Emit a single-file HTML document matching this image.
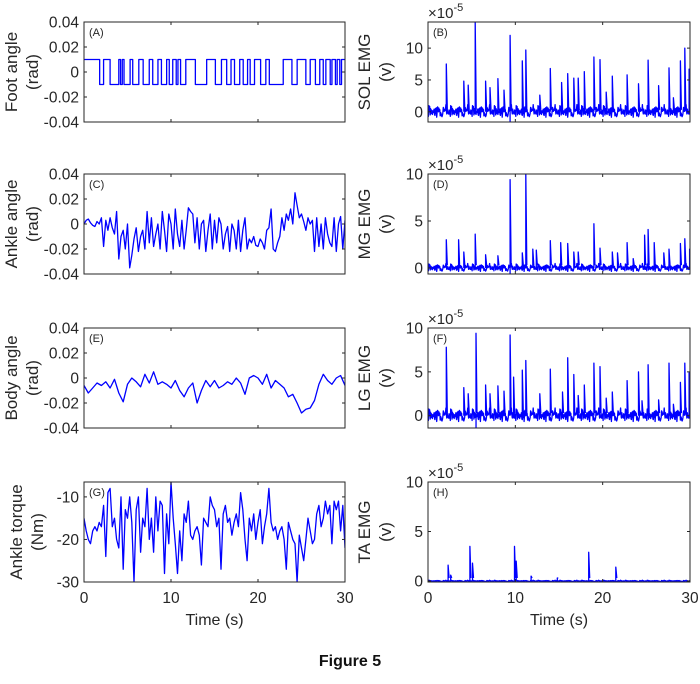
<!DOCTYPE html>
<html><head><meta charset="utf-8"><style>
html,body{margin:0;padding:0;background:#fff;}
svg{display:block;font-family:"Liberation Sans",Arial,sans-serif;}
</style></head><body>
<svg id="fig" width="700" height="684" viewBox="0 0 700 684" xmlns="http://www.w3.org/2000/svg">
<text x="350" y="666" text-anchor="middle" font-size="16" font-weight="bold" fill="#111">Figure 5</text>
</svg>
<script>
// ---------- data ----------
const footToggleTimes = [1.8,2.25,3.0,4.0,4.2,4.4,4.6,5.3,5.6,6.3,6.8,7.5,7.9,8.5,8.9,9.5,9.8,10.2,10.6,10.8,11.1,11.7,12.8,14.1,15.1,15.8,16.4,16.9,17.3,17.9,18.3,18.8,19.1,19.6,20.3,20.9,21.3,22.9,23.9,24.5,25.5,26.0,26.6,27.1,27.5,27.8,28.3,28.5,28.9,29.1,29.4,29.6];
const footLevels = [0.01,-0.01];
const ankleAngle = [0,3,4,1,-1,-2,2,0,5,-18,3,-5,
5,-3,-8,10,-28,-10,-5,-20,0,-35,-25,-12,
-3,-22,-10,-5,-20,10,-15,5,-18,-8,0,-20,
10,-5,-22,8,0,-20,12,-8,-18,3,-20,-5,
13,10,8,-15,5,-20,0,3,-22,-5,8,-20,
3,-15,5,0,-20,-8,-2,-22,0,-5,-20,3,
-22,-5,5,-20,-12,-15,-10,-17,-18,-12,-15,-20,
-5,-3,12,-20,-22,-15,-10,5,-5,8,3,12,
0,25,15,5,8,2,-5,5,0,3,-22,5,
-18,0,-20,5,-8,-15,-18,5,-22,0,6,-20,3];
const bodyAngle = [-6,-12,-8,-4,-6,-3,-8,-1,-12,-19,
-5,0,-3,-7,3,-4,5,-5,-3,-5,
-8,-2,-10,-15,-8,-4,-20,-10,-2,-7,
-2,-8,-6,-3,-5,0,-4,-13,0,2,
0,-5,3,-8,-2,-5,-8,-15,-13,-20,
-28,-25,-24,-18,-5,3,-2,-5,0,2,-6];
const ankleTorque = [-15,-18,-20,-21,-18,-17,-18,-16,-17,-12,-24,-9,
-8,-17,-15,-20,-22,-10,-27,-13,-15,-10,-16,-30,
-13,-10,-23,-15,-17,-8,-20,-15,-23,-10,-18,-11,
-12,-28,-14,-21,-6.5,-15,-21,-28,-18,-25,-14,-16,
-11,-19,-20,-18,-17,-19,-26,-15,-16,-17,-10,-12,
-13,-17,-15,-27,-14,-12,-16,-15,-19,-16,-14,-17,
-9,-13,-20,-25,-15,-18,-14,-20,-16,-13,-21,-17,
-14,-8,-16,-18,-17,-20,-18,-17,-20,-27,-16,-18,
-20,-21,-30,-19,-22,-25,-20,-15,-18,-21,-20,-14,
-12,-17,-15,-11,-14,-12,-21,-11,-13,-11,-18,-12,-22];
const emgNoise = [0.3,-0.5,0.8,-0.2,1.1,-0.7,0.4,-1.0,0.6,0.1,-0.4,0.9,-0.8,0.2,1.4,-0.3,0.5,-0.9,0.0,0.7,-0.6,1.0,-0.1,0.3,-1.1,0.8,-0.4,0.2,1.2,-0.5,0.6,-0.8,0.1,0.9,-0.2,-0.7,0.4,1.6,-0.3,0.5,-1.2,0.2,0.7,-0.5,0.3,1.0,-0.9,0.1,0.6,-0.4];
const solSpikeT = [2.1,4.1,4.6,5.4,6.6,7.1,8.0,8.7,9.4,10.8,11.2,12.8,14.0,15.3,16.0,16.7,17.2,17.9,19.0,19.7,20.4,21.1,22.8,24.1,25.2,26.4,27.6,28.1,28.9,29.4,29.9];
const solSpikeH = [7.5,4.8,4.2,14.1,4.8,3.8,5.2,3.4,12,8,9.7,2.6,6.8,4.6,6,5.3,5.3,6.3,8.6,8.2,3.1,5.6,5.8,4.4,8.1,4.1,6.9,2.2,8,10,6.7];
const mgSpikeT = [2.1,3.5,4.1,5.4,6.6,8.0,9.4,10.8,11.2,12.0,12.4,14.0,15.2,16.0,16.7,17.2,19.0,19.7,21.1,21.7,22.8,23.5,24.8,25.2,25.9,27.0,27.6,28.9,29.4,29.95];
const mgSpikeH = [3,3,1.7,3.6,1.4,1.3,9.4,1.6,10,2,1.9,2.9,2.7,2.6,1.7,1.7,4.7,2.1,1.7,1.6,2.7,1,3.5,4.1,2.7,1.6,2,2.6,3.1,2];
const lgSpikeT = [2.1,4.1,4.6,5.5,6.6,7.1,8.0,8.7,9.4,9.8,10.8,11.2,12.8,14.0,15.4,16.0,16.7,17.2,17.9,19.0,19.7,20.4,21.1,22.8,24.1,24.5,25.2,26.4,27.6,28.1,28.9,29.4,29.9];
const lgSpikeH = [7.8,3.2,2.5,9.4,3.5,2.5,3.4,2.8,9.2,4.4,5.2,6.3,2.5,5.3,2.7,6.6,4.7,2.3,3.5,6,5.6,2,2.7,4,5,1.7,5.8,1.8,6,1.3,3.8,6,4.9];
const taSpikeT = [2.3,2.6,4.8,5.1,9.9,10.1,11.8,14.8,18.4,21.5];
const taSpikeH = [1.6,0.6,3.5,1.8,3.5,2,0.5,0.3,2.9,1.4];
const angleTicks = [0.04,0.02,0,-0.02,-0.04];
const angleTickLabels = ["0.04","0.02","0","-0.02","-0.04"];
const torqueTicks = [-10,-20,-30];
const emgTicks = [0,5,10];
const timeTicks = [0,10,20,30];

// ---------- drawing ----------
const NS="http://www.w3.org/2000/svg";
const svg=document.getElementById('fig');
function el(tag,attrs,parent){const e=document.createElementNS(NS,tag);for(const k in attrs)e.setAttribute(k,attrs[k]);(parent||svg).appendChild(e);return e;}
const BLUE="#0000ff";

function makePanel(o){
  const g=el('g',{});
  
  
  const x0=o.x0,x1=o.x1,y0=o.y0,y1=o.y1;
  const sx=t=>x0+(t-0)/30*(x1-x0);
  const sy=v=>y1-(v-o.ymin)/(o.ymax-o.ymin)*(y1-y0);
  const clip='c'+o.label;
  const cp=el('clipPath',{id:clip},g);el('rect',{x:x0,y:y0,width:x1-x0,height:y1-y0},cp);
  const p=el('path',{d:o.path(sx,sy),fill:'none',stroke:BLUE,'stroke-width':1.3,'stroke-linejoin':'round','clip-path':'url(#'+clip+')'},g);
  
  
  const b=el('rect',{x:x0,y:y0,width:x1-x0,height:y1-y0,fill:'none',stroke:'#262626','stroke-width':1},g);
  
  
  o.yticks.forEach((v,i)=>{
    const y=sy(v);
    el('line',{x1:x0,x2:x0+3,y1:y,y2:y,stroke:'#262626'},g);
    el('line',{x1:x1,x2:x1-3,y1:y,y2:y,stroke:'#262626'},g);
    const t=el('text',{x:x0-5,y:y+5.5,'text-anchor':'end','font-size':15.5,fill:'#262626'},g);
    t.textContent=o.ylabels?o.ylabels[i]:String(v);
    
    
  });
  timeTicks.forEach(v=>{
    const x=sx(v);
    el('line',{x1:x,x2:x,y1:y1,y2:y1-3,stroke:'#262626'},g);
    el('line',{x1:x,x2:x,y1:y0,y2:y0+3,stroke:'#262626'},g);
    if(o.xlabels){
      const t=el('text',{x:x,y:y1+21,'text-anchor':'middle','font-size':15.5,fill:'#262626'},g);
      t.textContent=String(v);
      
      
    }
  });
  if(o.xlabels){
    const t=el('text',{x:(x0+x1)/2,y:y1+43,'text-anchor':'middle','font-size':16,fill:'#262626'},g);
    t.textContent='Time (s)';
    
    
  }
  const lt=el('text',{x:x0+5,y:y0+14,'font-size':11,fill:'#262626'},g);
  lt.textContent='('+o.label+')';
  
  
  const cy=(y0+y1)/2;
  o.ytitle.forEach((s,i)=>{
    const xx=o.ytx+i*21;
    const t=el('text',{x:xx,y:cy,'text-anchor':'middle','font-size':17,fill:'#262626',transform:'rotate(-90 '+xx+' '+cy+')'},g);
    t.textContent=s;
    
    
  });
  if(o.exp){
    const t=el('text',{x:x0,y:y0-4,'font-size':15,fill:'#262626'},g);
    t.textContent='\u00d710';
    const s=el('tspan',{dy:-7,'font-size':11},t);s.textContent='-5';
    
    
  }
}
function linePath(arr,dt,scale){return (sx,sy)=>arr.map((v,i)=>(i?'L':'M')+sx(i*dt).toFixed(1)+','+sy(v*scale).toFixed(1)).join('');}
function footPath(sx,sy){
  let s=0,d='M'+sx(0)+','+sy(footLevels[0]);
  footToggleTimes.forEach(t=>{d+='L'+sx(t)+','+sy(footLevels[s]);s=1-s;d+='L'+sx(t)+','+sy(footLevels[s]);});
  return d+'L'+sx(30)+','+sy(footLevels[s]);
}
function emgPath(T,H,amp,neg){
  return (sx,sy)=>{
    let d='';const N=600;
    for(let i=0;i<=N;i++){const t=i*30/N;const v=emgNoise[(i*7)%emgNoise.length]*amp;d+=(i?'L':'M')+sx(t).toFixed(1)+','+sy(v).toFixed(1);}
    T.forEach((t,i)=>{d+='M'+sx(t).toFixed(1)+','+sy(0)+'L'+sx(t).toFixed(1)+','+sy(H[i]).toFixed(1)+'L'+(sx(t)+1).toFixed(1)+','+sy(0.3).toFixed(1);});
    if(neg) d+='M'+sx(neg[0])+','+sy(0)+'L'+sx(neg[0])+','+sy(neg[1]);
    return d;
  };
}
const L={x0:84,x1:345},R={x0:428,x1:690};
const rows=[[22,122],[174,274],[328,428],[482,582]];
makePanel({name:'foot-angle-panel',label:'A',...L,y0:rows[0][0],y1:rows[0][1],ymin:-0.04,ymax:0.04,yticks:angleTicks,ylabels:angleTickLabels,ytitle:['Foot angle','(rad)'],ytx:17,path:footPath});
makePanel({name:'ankle-angle-panel',label:'C',...L,y0:rows[1][0],y1:rows[1][1],ymin:-0.04,ymax:0.04,yticks:angleTicks,ylabels:angleTickLabels,ytitle:['Ankle angle','(rad)'],ytx:17,path:linePath(ankleAngle,0.25,0.001)});
makePanel({name:'body-angle-panel',label:'E',...L,y0:rows[2][0],y1:rows[2][1],ymin:-0.04,ymax:0.04,yticks:angleTicks,ylabels:angleTickLabels,ytitle:['Body angle','(rad)'],ytx:17,path:linePath(bodyAngle,0.5,0.001)});
makePanel({name:'ankle-torque-panel',label:'G',...L,y0:rows[3][0],y1:rows[3][1],ymin:-30,ymax:-6.5,yticks:torqueTicks,ytitle:['Ankle torque','(Nm)'],ytx:22,xlabels:true,path:linePath(ankleTorque,0.25,1)});
makePanel({name:'sol-emg-panel',label:'B',...R,y0:rows[0][0],y1:rows[0][1],ymin:-1.6,ymax:14.1,yticks:emgTicks,ytitle:['SOL EMG','(v)'],ytx:370,exp:true,path:emgPath(solSpikeT,solSpikeH,0.7,[9.4,-1.6])});
makePanel({name:'mg-emg-panel',label:'D',...R,y0:rows[1][0],y1:rows[1][1],ymin:-0.64,ymax:10,yticks:emgTicks,ytitle:['MG EMG','(v)'],ytx:370,exp:true,path:emgPath(mgSpikeT,mgSpikeH,0.3,[9.4,-0.6])});
makePanel({name:'lg-emg-panel',label:'F',...R,y0:rows[2][0],y1:rows[2][1],ymin:-1.4,ymax:10,yticks:emgTicks,ytitle:['LG EMG','(v)'],ytx:370,exp:true,path:emgPath(lgSpikeT,lgSpikeH,0.55,[5.5,-1.4])});
makePanel({name:'ta-emg-panel',label:'H',...R,y0:rows[3][0],y1:rows[3][1],ymin:-0.1,ymax:10,yticks:emgTicks,ytitle:['TA EMG','(v)'],ytx:370,exp:true,xlabels:true,path:emgPath(taSpikeT,taSpikeH,0.05,null)});
</script>
</body></html>
